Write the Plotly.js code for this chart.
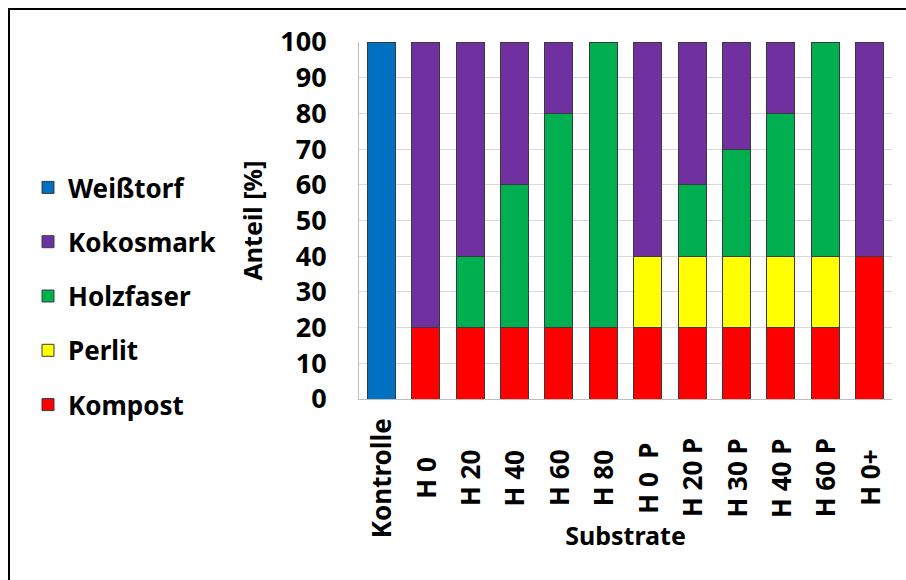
<!DOCTYPE html>
<html>
<head>
<meta charset="utf-8">
<script src="https://cdn.plot.ly/plotly-3.0.1.min.js"></script>
<style>
  html, body { margin: 0; padding: 0; background: #ffffff; }
  #chart { width: 906px; height: 580px; }
</style>
</head>
<body>
<div id="chart"></div>
<script>
// Categories (x axis)
const categories = ["Kontrolle", "H 0", "H 20", "H 40", "H 60", "H 80", "H 0\u00a0\u00a0P", "H 20 P", "H 30 P", "H 40 P", "H 60 P", "H 0+"];

// Series values (percent share), stacked bottom to top
const kompost    = [0, 20, 20, 20, 20, 20, 20, 20, 20, 20, 20, 40];
const perlit     = [0, 0, 0, 0, 0, 0, 20, 20, 20, 20, 20, 0];
const holzfaser  = [0, 0, 20, 40, 60, 80, 0, 20, 30, 40, 60, 0];
const kokosmark  = [0, 80, 60, 40, 20, 0, 60, 40, 30, 20, 0, 60];
const weisstorf  = [100, 0, 0, 0, 0, 0, 0, 0, 0, 0, 0, 0];

const seriesNames = ["Kompost", "Perlit", "Holzfaser", "Kokosmark", "Weißtorf"];
const seriesValues = [kompost, perlit, holzfaser, kokosmark, weisstorf];
const seriesColors = ["#FF0000", "#FFFF00", "#00B050", "#7030A0", "#0070C0"];

// Y axis ticks
const yTickVals = [0, 10, 20, 30, 40, 50, 60, 70, 80, 90, 100];

const FONT = "Noto Sans, Open Sans, DejaVu Sans, sans-serif";

const traces = seriesNames.map((name, i) => ({
  type: "bar",
  name: name,
  x: categories,
  y: seriesValues[i],
  legendgroup: name,
  legendrank: 1000 - i,
  marker: { color: seriesColors[i], line: { color: "#3a3a3a", width: 1 } },
  hoverinfo: "x+y+name"
}));

const W = 906, H = 580;
const plotL = 359, plotR = 892, plotT = 42, plotB = 399;

const catAnnotations = categories.map(c => ({
  x: c, xref: "x",
  y: 1 - 478 / H, yref: "paper",
  text: c,
  showarrow: false,
  textangle: -90,
  xanchor: "center", yanchor: "middle",
  font: { family: FONT, size: 26, color: "#000000", weight: "bold" }
}));

const layout = {
  width: W, height: H,
  margin: { l: 0, r: 0, t: 0, b: 0, pad: 0 },
  paper_bgcolor: "#ffffff",
  plot_bgcolor: "#ffffff",
  barmode: "stack",
  bargap: 0.37,
  showlegend: true,
  legend: {
    x: 28 / W, xanchor: "left",
    y: 1 - 164 / H, yanchor: "top",
    traceorder: "grouped",
    tracegroupgap: 17.5,
    font: { family: FONT, size: 26, color: "#000000", weight: "bold" },
    bgcolor: "rgba(0,0,0,0)"
  },
  xaxis: {
    domain: [plotL / W, plotR / W],
    type: "category",
    showticklabels: false,
    ticks: "",
    showgrid: false,
    showline: true,
    linecolor: "#bfbfbf",
    linewidth: 1,
    automargin: false,
    title: {
      text: "Substrate",
      standoff: 128,
      font: { family: FONT, size: 25, color: "#000000", weight: "bold" }
    }
  },
  yaxis: {
    domain: [1 - plotB / H, 1 - plotT / H],
    range: [0, 100],
    tickvals: yTickVals,
    ticktext: yTickVals.map(String),
    ticks: "",
    ticklabelstandoff: 26,
    showgrid: true,
    gridcolor: "#d9d9d9",
    gridwidth: 1,
    zeroline: false,
    showline: true,
    linecolor: "#bfbfbf",
    linewidth: 1,
    automargin: false,
    tickfont: { family: FONT, size: 27, color: "#000000", weight: "bold" },
    title: {
      text: "Anteil [%]",
      standoff: 10,
      font: { family: FONT, size: 25, color: "#000000", weight: "bold" }
    }
  },
  annotations: catAnnotations,
  shapes: [
    { type: "line", xref: "paper", yref: "paper", x0: 8 / W, x1: 1, y0: 1 - 9 / H, y1: 1 - 9 / H, line: { color: "#000000", width: 2 } },
    { type: "line", xref: "paper", yref: "paper", x0: 9 / W, x1: 9 / W, y0: 0, y1: 1 - 8 / H, line: { color: "#000000", width: 2 } }
  ]
};

Plotly.newPlot("chart", traces, layout, { displayModeBar: false, staticPlot: true });
</script>
</body>
</html>
